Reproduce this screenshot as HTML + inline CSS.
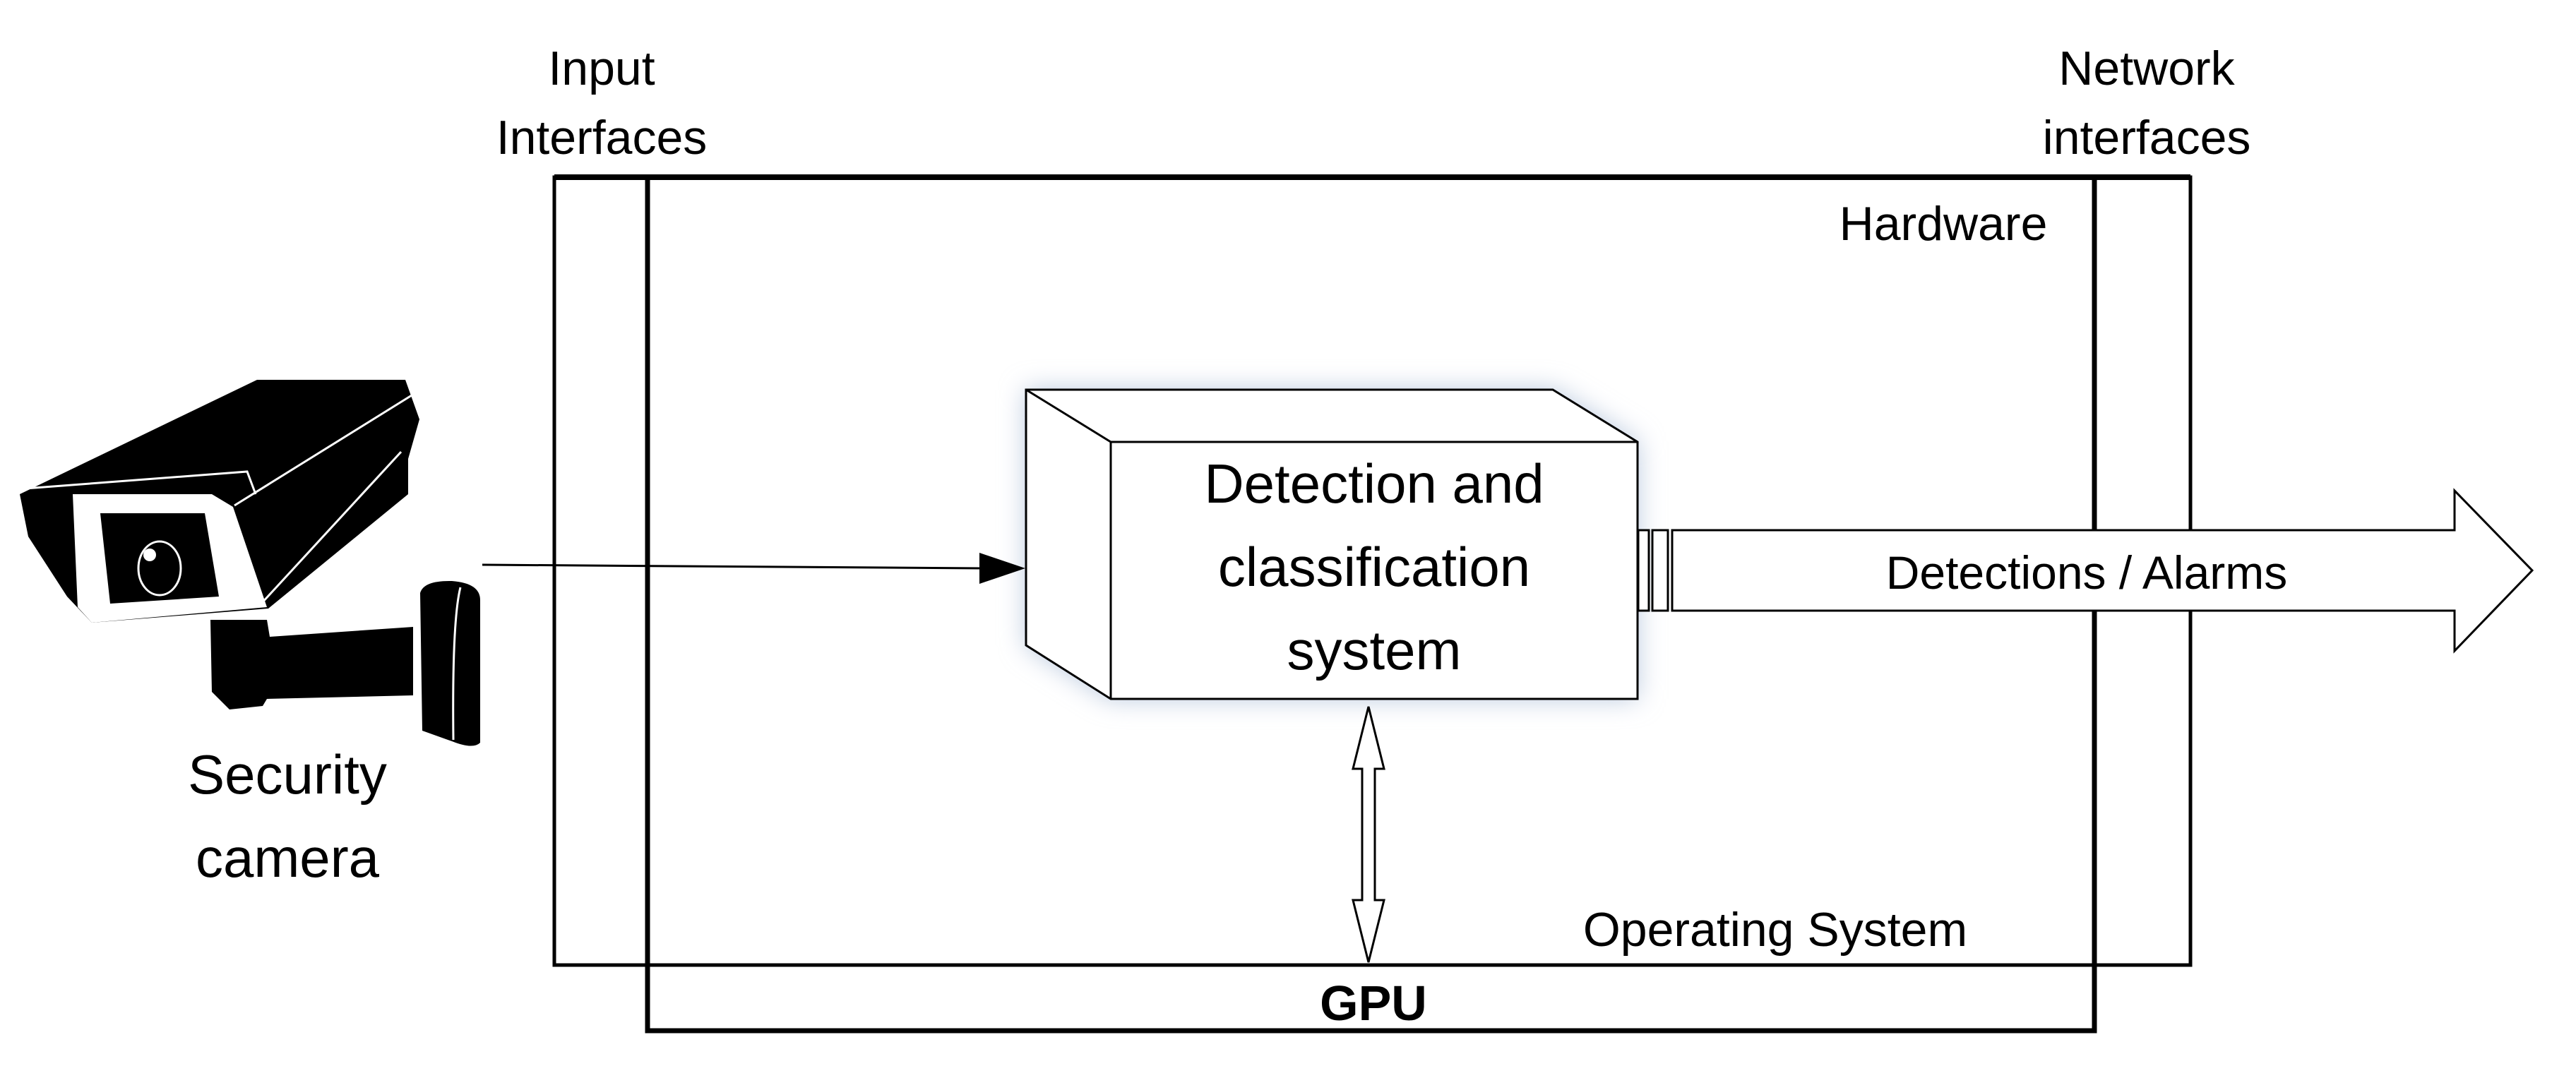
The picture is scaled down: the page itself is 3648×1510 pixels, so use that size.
<!DOCTYPE html>
<html><head><meta charset="utf-8"><style>
html,body{margin:0;padding:0;background:#fff}
svg{display:block}
text{font-family:"Liberation Sans",sans-serif;fill:#000}
</style></head><body>
<svg width="3648" height="1510" viewBox="0 0 3648 1510" xmlns="http://www.w3.org/2000/svg">
<defs>
<filter id="glow" x="-20%" y="-20%" width="140%" height="140%"><feGaussianBlur stdDeviation="18"/></filter>
</defs>
<g font-size="68" text-anchor="middle">
<text x="852" y="120">Input</text>
<text x="852" y="218">Interfaces</text>
<text x="3040" y="120">Network</text>
<text x="3040" y="218">interfaces</text>
<text x="2752" y="340">Hardware</text>
<text x="2514" y="1340">Operating System</text>
</g>
<rect x="785" y="251" width="2317" height="1116" fill="none" stroke="#000" stroke-width="5"/>
<polyline points="917,251 917,1460 2966,1460 2966,251" fill="none" stroke="#000" stroke-width="7"/>
<line x1="785" y1="251" x2="3102" y2="251" stroke="#000" stroke-width="8"/>
<text x="1945" y="1445" font-size="70" font-weight="bold" text-anchor="middle">GPU</text>
<polygon points="1453,552 2199,552 2319,626 2319,990 1573,990 1453,914" fill="#b9c8de" filter="url(#glow)"/>
<polygon points="1453,552 2199,552 2319,626 2319,990 1573,990 1453,914" fill="#fff" stroke="#000" stroke-width="3"/>
<polyline points="1453,552 1573,626 2319,626" fill="none" stroke="#000" stroke-width="3"/>
<line x1="1573" y1="626" x2="1573" y2="990" stroke="#000" stroke-width="3"/>
<g font-size="78" text-anchor="middle">
<text x="1946" y="712">Detection and</text>
<text x="1946" y="830">classification</text>
<text x="1946" y="948">system</text>
</g>
<rect x="2320" y="751" width="15" height="114" fill="#fff" stroke="#000" stroke-width="3"/>
<rect x="2340" y="751" width="22" height="114" fill="#fff" stroke="#000" stroke-width="3"/>
<polygon points="2368,751 3476,751 3476,695 3586,808 3476,922 3476,865 2368,865" fill="#fff" stroke="#000" stroke-width="3"/>
<text x="2955" y="834" font-size="66" text-anchor="middle">Detections / Alarms</text>
<line x1="683" y1="800" x2="1390" y2="805" stroke="#000" stroke-width="3"/>
<polygon points="1387,783 1452,805 1387,827" fill="#000"/>
<polygon points="1938,1001 1960,1089 1947,1089 1947,1275 1960,1275 1938,1363 1916,1275 1929,1275 1929,1089 1916,1089" fill="#fff" stroke="#000" stroke-width="3"/>
<g>
<path d="M28 700 L364 538 L574 538 L594 594 L578 650 L578 700 L380 862 L130 882 L95 845 L40 760 Z" fill="#000"/>
<polyline points="36,692 350,668 362,700" fill="none" stroke="#fff" stroke-width="3"/>
<line x1="332" y1="716" x2="583" y2="560" stroke="#fff" stroke-width="3"/>
<line x1="370" y1="855" x2="568" y2="640" stroke="#fff" stroke-width="3"/>
<path d="M103 700 L300 700 L330 718 L378 860 L130 882 L110 860 Z" fill="#fff"/>
<path d="M142 727 L290 727 L310 845 L156 855 Z" fill="#000"/>
<ellipse cx="226" cy="805" rx="30" ry="38" fill="none" stroke="#fff" stroke-width="3"/>
<circle cx="212" cy="786" r="9" fill="#fff"/>
<path d="M298 878 L378 878 L382 902 L585 888 L585 985 L378 990 L372 1000 L325 1005 L300 980 Z" fill="#000"/>
<path d="M595 840 Q600 822 640 823 Q680 826 680 850 L680 1052 Q670 1062 640 1050 L598 1035 Z" fill="#000"/>
<path d="M652 832 Q640 880 642 1048" fill="none" stroke="#fff" stroke-width="3"/>
</g>
<g font-size="78" text-anchor="middle">
<text x="407" y="1124">Security</text>
<text x="407" y="1242">camera</text>
</g>
</svg>
</body></html>
